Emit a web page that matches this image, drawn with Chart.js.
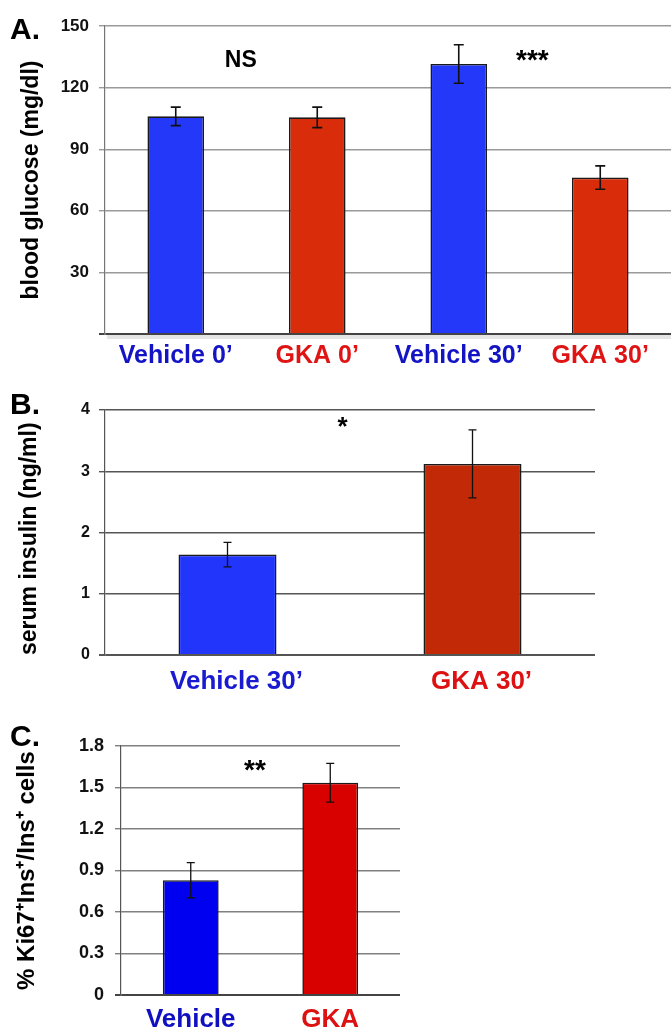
<!DOCTYPE html>
<html>
<head>
<meta charset="utf-8">
<script src="https://cdn.jsdelivr.net/npm/chart.js@4.4.1/dist/chart.umd.min.js"></script>
<style>
  body { margin: 0; background: #fff; }
  #page { position: relative; width: 671px; height: 1031px; overflow: hidden; }
  .panel { position: absolute; left: 0; width: 671px; }
  .letter { position: absolute; left: 10px; font: bold 30px 'Liberation Sans', Arial, sans-serif; line-height: 30px; color: #000; }
</style>
</head>
<body>
<div id="page">
  <div class="panel" style="top:0;height:380px"><canvas id="chartA"></canvas></div>
  <div class="panel" style="top:380px;height:320px"><canvas id="chartB"></canvas></div>
  <div class="panel" style="top:700px;height:331px"><canvas id="chartC"></canvas></div>
  <div class="letter" style="top:14px">A.</div>
  <div class="letter" style="top:389px">B.</div>
  <div class="letter" style="top:721px">C.</div>
</div>

<script>
// ---- A: blood glucose ----
const glucoseLabels = ['Vehicle 0’', 'GKA 0’', 'Vehicle 30’', 'GKA 30’'];
const glucoseMeans = [106, 105.5, 131.5, 76.2];
const glucoseErrors = [4.5, 5, 9.4, 5.7];
const glucoseTicks = [0, 30, 60, 90, 120, 150];
const glucoseSigText = ['NS', '***'];
const glucoseSigAt = [0.46, 2.52];
const glucoseSigY = [130, 129];

// ---- B: serum insulin ----
const insulinLabels = ['Vehicle 30’', 'GKA 30’'];
const insulinMeans = [1.64, 3.12];
const insulinErrors = [0.2, 0.555];
const insulinTicks = [0, 1, 2, 3, 4];
const insulinSigText = ['*'];
const insulinSigAt = [0.47];
const insulinSigY = [3.59];

// ---- C: Ki67 ----
const ki67Labels = ['Vehicle', 'GKA'];
const ki67Means = [0.83, 1.535];
const ki67Errors = [0.127, 0.14];
const ki67Ticks = [0, 0.3, 0.6, 0.9, 1.2, 1.5, 1.8];
const ki67SigText = ['**'];
const ki67SigAt = [0.46];
const ki67SigY = [1.56];

const SANS = "'Liberation Sans', Arial, sans-serif";

// error bars drawn from the library's y scale
const errorBars = {
  id: 'errorBars',
  afterDatasetsDraw(chart, args, opts) {
    const ctx = chart.ctx;
    const y = chart.scales.y;
    const meta = chart.getDatasetMeta(0);
    const vals = chart.data.datasets[0].data;
    ctx.save();
    ctx.strokeStyle = '#111';
    ctx.lineWidth = opts.width;
    meta.data.forEach((bar, i) => {
      const top = y.getPixelForValue(vals[i] + opts.errors[i]);
      const bot = y.getPixelForValue(vals[i] - opts.errors[i]);
      ctx.beginPath();
      ctx.moveTo(bar.x, top); ctx.lineTo(bar.x, bot);
      ctx.moveTo(bar.x - opts.cap, top); ctx.lineTo(bar.x + opts.cap, top);
      ctx.moveTo(bar.x - opts.cap, bot); ctx.lineTo(bar.x + opts.cap, bot);
      ctx.stroke();
    });
    ctx.restore();
  }
};

// significance marks and baseline shadow
const sigMarks = {
  id: 'sigMarks',
  afterDraw(chart, args, opts) {
    const ctx = chart.ctx;
    const x = chart.scales.x, y = chart.scales.y;
    const area = chart.chartArea;
    ctx.save();
    if (opts.shadow) {
      ctx.fillStyle = 'rgba(0,0,0,0.10)';
      ctx.fillRect(area.left + 2, area.bottom + 1, area.right - area.left, 4);
    }
    ctx.fillStyle = '#000';
    ctx.textAlign = 'center';
    ctx.textBaseline = 'alphabetic';
    opts.text.forEach((t, i) => {
      ctx.font = t === 'NS' ? opts.nsFont : opts.starFont;
      ctx.fillText(t, x.getPixelForValue(opts.at[i]), y.getPixelForValue(opts.y[i]));
    });
    ctx.restore();
  }
};

function makeChart(id, d, s) {
  new Chart(document.getElementById(id), {
    type: 'bar',
    data: {
      labels: d.labels,
      datasets: [{
        data: d.means,
        backgroundColor: s.barColors,
        borderColor: '#1a1a1a',
        borderWidth: 1.6,
        borderSkipped: 'bottom',
        barPercentage: 0.4,
        categoryPercentage: 1
      }]
    },
    options: {
      responsive: true,
      maintainAspectRatio: false,
      animation: false,
      layout: { padding: { top: s.padTop, right: s.padRight, bottom: 0, left: 0 } },
      plugins: {
        legend: { display: false },
        tooltip: { enabled: false },
        errorBars: { errors: d.errors, cap: s.cap, width: s.errWidth },
        sigMarks: { text: d.sigText, at: d.sigAt, y: d.sigY, shadow: s.shadow,
                    nsFont: "bold 23px " + SANS, starFont: s.starFont }
      },
      scales: {
        x: {
          offset: true,
          grid: { display: false, drawTicks: false },
          border: { display: false },
          afterFit: sc => { sc.height = s.xHeight; },
          ticks: {
            font: s.labelFont,
            color: c => s.labelColors[c.index],
            padding: s.labelPad,
            labelOffset: s.labelOffset,
            maxRotation: 0,
            autoSkip: false
          }
        },
        y: {
          min: d.ticks[0],
          max: d.ticks[d.ticks.length - 1],
          afterBuildTicks: sc => { sc.ticks = d.ticks.map(v => ({ value: v })); },
          afterFit: sc => { sc.width = s.axisWidth; },
          border: { color: s.axisColor, width: 1.2 },
          grid: {
            color: c => (c.tick && c.tick.value === 0) ? s.baseColor : s.gridColor,
            lineWidth: c => (c.tick && c.tick.value === 0) ? 2 : 1.4,
            drawTicks: true,
            tickLength: 6
          },
          ticks: {
            font: s.tickFont,
            color: '#111',
            padding: s.tickPad,
            callback: v => (s.hideZero && v === 0) ? '' : v
          },
          title: {
            display: true,
            text: d.title,
            align: s.titleAlign,
            font: s.titleFont,
            color: '#000',
            padding: { top: s.titlePad, bottom: 0 }
          }
        }
      }
    },
    plugins: [errorBars, sigMarks]
  });
}

makeChart('chartA',
  { labels: glucoseLabels, means: glucoseMeans, errors: glucoseErrors, ticks: glucoseTicks,
    sigText: glucoseSigText, sigAt: glucoseSigAt, sigY: glucoseSigY, title: 'blood glucose (mg/dl)' },
  { barColors: ['#2338f8', '#d92c0a', '#2338f8', '#d92c0a'],
    labelColors: ['#1414c4', '#e01414', '#1414c4', '#e01414'],
    padTop: 26, padRight: 0, xHeight: 46, axisWidth: 105,
    labelFont: { family: SANS, size: 25, weight: 'bold' }, labelPad: 7, labelOffset: 0,
    tickFont: { family: SANS, size: 17, weight: 'bold' }, tickPad: 10,
    titleFont: { family: SANS, size: 23, weight: 'bold' }, titlePad: 18, titleAlign: 'center',
    gridColor: '#9a9a9a', baseColor: '#444', axisColor: '#777',
    cap: 5, errWidth: 1.6, shadow: true, hideZero: true,
    starFont: "bold 28px " + SANS });

makeChart('chartB',
  { labels: insulinLabels, means: insulinMeans, errors: insulinErrors, ticks: insulinTicks,
    sigText: insulinSigText, sigAt: insulinSigAt, sigY: insulinSigY, title: 'serum insulin (ng/ml)' },
  { barColors: ['#2236fb', '#c22907'],
    labelColors: ['#1a1ad0', '#dd1111'],
    padTop: 30, padRight: 76, xHeight: 45, axisWidth: 105,
    labelFont: { family: SANS, size: 26, weight: 'bold' }, labelPad: 11, labelOffset: 9,
    tickFont: { family: SANS, size: 16, weight: 'bold' }, tickPad: 9,
    titleFont: { family: SANS, size: 23, weight: 'bold' }, titlePad: 16, titleAlign: 'start',
    gridColor: '#555', baseColor: '#555', axisColor: '#555',
    cap: 4, errWidth: 1.3, shadow: false, hideZero: false,
    starFont: "bold 26px " + SANS });

makeChart('chartC',
  { labels: ki67Labels, means: ki67Means, errors: ki67Errors, ticks: ki67Ticks,
    sigText: ki67SigText, sigAt: ki67SigAt, sigY: ki67SigY, title: '% Ki67⁺Ins⁺/Ins⁺ cells' },
  { barColors: ['#0000f0', '#d90000'],
    labelColors: ['#1010c0', '#dd1111'],
    padTop: 46, padRight: 271, xHeight: 36, axisWidth: 121,
    labelFont: { family: SANS, size: 26, weight: 'bold' }, labelPad: 9, labelOffset: 0,
    tickFont: { family: SANS, size: 18, weight: 'bold' }, tickPad: 11,
    titleFont: { family: SANS, size: 24, weight: 'bold' }, titlePad: 13, titleAlign: 'center',
    gridColor: '#808080', baseColor: '#444', axisColor: '#555',
    cap: 4, errWidth: 1.3, shadow: false, hideZero: false,
    starFont: "bold 28px " + SANS });
</script>
</body>
</html>
